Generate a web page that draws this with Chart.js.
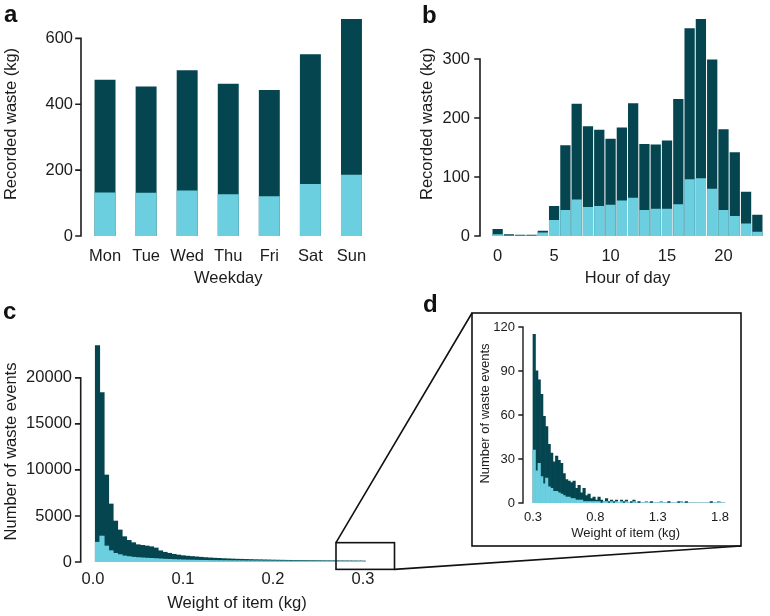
<!DOCTYPE html>
<html lang="en">
<head>
<meta charset="UTF-8">
<title>Recorded food waste</title>
<script src="https://cdn.jsdelivr.net/npm/chart.js"></script>
<style>
  body { margin: 0; background: #fff; }
  #wrap { position: relative; width: 770px; height: 616px; overflow: hidden; font-family: "Liberation Sans", Arial, sans-serif; }
  canvas { position: absolute; }
  .tag { position: absolute; font-weight: bold; font-size: 24px; line-height: 1; color: #111; }
</style>
</head>
<body>
<div id="wrap">
  <canvas id="chartA" width="385" height="290" style="left:0;top:0"></canvas>
  <canvas id="chartB" width="385" height="290" style="left:385px;top:0"></canvas>
  <canvas id="chartC" width="420" height="326" style="left:0;top:290px"></canvas>
  <canvas id="overlay" width="770" height="616" style="left:0;top:0"></canvas>
  <canvas id="chartD" width="265" height="229" style="left:474px;top:315px"></canvas>
  <div class="tag" style="left:4px;top:2px">a</div>
  <div class="tag" style="left:422px;top:3px">b</div>
  <div class="tag" style="left:3px;top:299px">c</div>
  <div class="tag" style="left:423px;top:292px">d</div>
</div>

<script>
  // panel a: waste per weekday
  const weekdays = ['Mon', 'Tue', 'Wed', 'Thu', 'Fri', 'Sat', 'Sun'];
  const weekdayTotal = [474, 454, 503, 462, 443, 552, 659];
  const weekdayPart = [132, 131, 138, 127, 121, 158, 186];
  const weekdayTicks = [0, 200, 400, 600];

  // panel b: waste per hour of day
  const hours = [0, 1, 2, 3, 4, 5, 6, 7, 8, 9, 10, 11, 12, 13, 14, 15, 16, 17, 18, 19, 20, 21, 22, 23];
  const hourTotal = [12, 3, 2, 2, 9, 51, 154, 224, 186, 180, 165, 184, 225, 156, 155, 162, 232, 352, 368, 299, 181, 142, 75, 36];
  const hourPart = [3, 1, 1, 1, 6, 27, 44, 62, 49, 51, 53, 60, 65, 44, 46, 46, 54, 96, 98, 80, 44, 34, 21, 7];
  const hourTicks = [0, 100, 200, 300];

  // panel c: item weight histogram (bin centres, kg)
  const weightC = [0.005, 0.010, 0.015, 0.020, 0.025, 0.030, 0.035, 0.040, 0.045, 0.050,
    0.055, 0.060, 0.065, 0.070, 0.075, 0.080, 0.085, 0.090, 0.095, 0.100,
    0.105, 0.110, 0.115, 0.120, 0.125, 0.130, 0.135, 0.140, 0.145, 0.150,
    0.155, 0.160, 0.165, 0.170, 0.175, 0.180, 0.185, 0.190, 0.195, 0.200,
    0.205, 0.210, 0.215, 0.220, 0.225, 0.230, 0.235, 0.240, 0.245, 0.250,
    0.255, 0.260, 0.265, 0.270, 0.275, 0.280, 0.285, 0.290, 0.295, 0.300];
  const eventsC = [23500, 18400, 9450, 6300, 4450, 3480, 2750, 2350, 2100, 1880,
    1810, 1740, 1660, 1520, 1220, 1060, 950, 840, 760, 690,
    640, 600, 560, 520, 480, 450, 420, 400, 370, 350,
    330, 310, 300, 285, 270, 255, 245, 235, 225, 215,
    205, 200, 190, 185, 178, 172, 168, 162, 158, 152,
    148, 144, 140, 136, 132, 128, 125, 122, 118, 115];
  const eventsCPart = [2150, 2820, 1740, 1230, 940, 800, 660, 590, 520, 480,
    450, 420, 400, 370, 340, 310, 290, 270, 250, 235,
    220, 210, 200, 190, 180, 170, 165, 160, 155, 150,
    145, 140, 135, 130, 128, 125, 122, 120, 118, 115,
    112, 110, 108, 106, 104, 102, 100, 98, 96, 95,
    94, 92, 90, 89, 88, 87, 86, 85, 84, 83];
  const weightTicksC = [0, 0.1, 0.2, 0.3];
  const eventTicksC = [0, 5000, 10000, 15000, 20000];
  // zoomed window marked in c (kg, events)
  const zoomWeight = [0.27, 0.335];
  const zoomEvents = [-800, 2100];

  // panel d: heavier items (bin centres, kg)
  const weightD = [0.31, 0.33, 0.35, 0.37, 0.39, 0.41, 0.43, 0.45, 0.47, 0.49,
    0.51, 0.53, 0.55, 0.57, 0.59, 0.61, 0.63, 0.65, 0.67, 0.69,
    0.71, 0.73, 0.75, 0.77, 0.79, 0.81, 0.83, 0.85, 0.87, 0.89,
    0.91, 0.93, 0.95, 0.97, 0.99, 1.01, 1.03, 1.05, 1.07, 1.09,
    1.11, 1.13, 1.15, 1.17, 1.19, 1.21, 1.23, 1.25, 1.27, 1.29,
    1.31, 1.33, 1.35, 1.37, 1.39, 1.41, 1.43, 1.45, 1.47, 1.49,
    1.51, 1.53, 1.55, 1.57, 1.59, 1.61, 1.63, 1.65, 1.67, 1.69,
    1.71, 1.73, 1.75, 1.77, 1.79, 1.81, 1.83];
  const eventsD = [115, 90, 84, 74, 59, 52, 40, 34, 28, 32,
    29, 27, 20, 16, 15, 14, 15, 10, 12, 7,
    10, 5, 6, 3, 4, 2, 4, 2, 1, 3,
    1, 2, 1, 2, 0, 2, 1, 2, 0, 1,
    2, 0, 1, 0, 0, 1, 0, 1, 0, 0,
    0, 1, 0, 0, 1, 0, 0, 0, 1, 1,
    0, 1, 0, 0, 0, 0, 0, 0, 0, 0,
    0, 1, 0, 0, 1, 0, 0];
  const eventsDPart = [36, 22, 27, 18, 13, 17, 11, 10, 8, 8,
    7, 6, 5, 4, 4, 3, 3, 2, 2, 2,
    1, 1, 1, 1, 1, 1, 1, 0, 1, 1,
    0, 1, 0, 1, 0, 1, 0, 1, 0, 0,
    1, 0, 0, 0, 0, 1, 0, 0, 0, 0,
    0, 1, 0, 0, 0, 0, 0, 0, 0, 1,
    0, 0, 0, 0, 0, 0, 0, 0, 0, 0,
    0, 0, 0, 0, 1, 0, 0];
  const weightTicksD = [0.3, 0.8, 1.3, 1.8];
  const eventTicksD = [0, 30, 60, 90, 120];

  const DARK = '#04454f';
  const LIGHT = '#6bcfdf';
  const INK = '#1c1c1c';
  const FS = 16.5;

  Chart.defaults.font.family = '"Liberation Sans", Arial, sans-serif';
  Chart.defaults.color = INK;

  // y axis drawn only between first and last tick, like the original
  const axisLine = {
    id: 'axisLine',
    afterDraw(chart, args, opts) {
      const y = chart.scales.y;
      const ctx = chart.ctx;
      const x0 = chart.chartArea.left - opts.gap;
      const vals = y.ticks.map(t => t.value);
      ctx.save();
      ctx.strokeStyle = INK;
      ctx.lineWidth = opts.width;
      ctx.lineCap = 'square';
      ctx.beginPath();
      ctx.moveTo(x0, y.getPixelForValue(vals[vals.length - 1]));
      ctx.lineTo(x0, y.getPixelForValue(vals[0]));
      vals.forEach(v => {
        const p = y.getPixelForValue(v);
        ctx.moveTo(x0, p);
        ctx.lineTo(x0 - opts.len, p);
      });
      ctx.stroke();
      ctx.restore();
    }
  };

  function yScale(max, ticks, width, tickPad, size, title, titlePad) {
    return {
      min: 0, max: max,
      afterBuildTicks: s => { s.ticks = ticks.map(v => ({ value: v })); },
      afterFit: s => { s.width = width; s.paddingTop = 0; s.paddingBottom = 0; },
      grid: { display: false, drawTicks: false },
      border: { display: false },
      ticks: { padding: tickPad, font: { size: size }, callback: v => String(v) },
      title: { display: true, text: title, font: { size: size }, padding: { top: titlePad, bottom: 0 } }
    };
  }

  function xFit(height) {
    return s => { s.height = height; s.paddingLeft = 0; s.paddingRight = 0; };
  }

  const common = {
    responsive: false,
    animation: false,
    devicePixelRatio: 1,
    plugins: { legend: { display: false }, tooltip: { enabled: false } }
  };

  // a
  new Chart(document.getElementById('chartA'), {
    type: 'bar',
    data: {
      labels: weekdays,
      datasets: [
        { data: weekdayPart, backgroundColor: LIGHT, grouped: false, barPercentage: 0.51, categoryPercentage: 1 },
        { data: weekdayTotal, backgroundColor: DARK, grouped: false, barPercentage: 0.51, categoryPercentage: 1 }
      ]
    },
    options: {
      ...common,
      layout: { padding: { top: 12, right: 13, left: 0, bottom: 0 } },
      plugins: { ...common.plugins, axisLine: { gap: 3.5, len: 5, width: 1.6 } },
      scales: {
        x: {
          afterFit: xFit(54),
          grid: { display: false, drawTicks: false },
          border: { display: false },
          ticks: { padding: 11, font: { size: FS } },
          title: { display: true, text: 'Weekday', font: { size: FS }, padding: { top: 0, bottom: 2 } }
        },
        y: yScale(680, weekdayTicks, 84.5, 11.5, FS, 'Recorded waste (kg)', 2)
      }
    },
    plugins: [axisLine]
  });

  // b
  new Chart(document.getElementById('chartB'), {
    type: 'bar',
    data: {
      labels: hours,
      datasets: [
        { data: hourPart, backgroundColor: LIGHT, grouped: false, barPercentage: 0.91, categoryPercentage: 1 },
        { data: hourTotal, backgroundColor: DARK, grouped: false, barPercentage: 0.91, categoryPercentage: 1 }
      ]
    },
    options: {
      ...common,
      layout: { padding: { top: 11.8, right: 7, left: 0, bottom: 0 } },
      plugins: { ...common.plugins, axisLine: { gap: 12, len: 5, width: 1.6 } },
      scales: {
        x: {
          afterFit: xFit(54),
          grid: { display: false, drawTicks: false },
          border: { display: false },
          ticks: {
            padding: 11, font: { size: FS }, autoSkip: false, maxRotation: 0,
            callback: (v, i) => (hours[i] % 5 === 0 ? String(hours[i]) : '')
          },
          title: { display: true, text: 'Hour of day', font: { size: FS }, padding: { top: 0, bottom: 2 } }
        },
        y: yScale(380, hourTicks, 107, 22, FS, 'Recorded waste (kg)', 33)
      }
    },
    plugins: [axisLine]
  });

  // c, with the zoom window drawn in data units
  const zoomBox = {
    id: 'zoomBox',
    afterDraw(chart) {
      const x = chart.scales.x, y = chart.scales.y, ctx = chart.ctx;
      const l = x.getPixelForValue(zoomWeight[0]), r = x.getPixelForValue(zoomWeight[1]);
      const t = y.getPixelForValue(zoomEvents[1]), b = y.getPixelForValue(zoomEvents[0]);
      ctx.save();
      ctx.strokeStyle = '#111';
      ctx.lineWidth = 1.6;
      ctx.strokeRect(l, t, r - l, b - t);
      ctx.restore();
    }
  };

  const chartC = new Chart(document.getElementById('chartC'), {
    type: 'bar',
    data: {
      datasets: [
        { data: weightC.map((w, i) => ({ x: w, y: eventsCPart[i] })), backgroundColor: LIGHT, grouped: false, barPercentage: 1, categoryPercentage: 1 },
        { data: weightC.map((w, i) => ({ x: w, y: eventsC[i] })), backgroundColor: DARK, grouped: false, barPercentage: 1, categoryPercentage: 1 }
      ]
    },
    options: {
      ...common,
      layout: { padding: { top: 51, right: 30, left: 0, bottom: 0 } },
      plugins: { ...common.plugins, axisLine: { gap: 3.3, len: 5, width: 1.6 } },
      scales: {
        x: {
          type: 'linear', min: -0.01, max: 0.33, offset: false,
          afterBuildTicks: s => { s.ticks = weightTicksC.map(v => ({ value: v })); },
          afterFit: xFit(54),
          grid: { display: false, drawTicks: false },
          border: { display: false },
          ticks: { padding: 8, font: { size: FS }, callback: v => v.toFixed(1) },
          title: { display: true, text: 'Weight of item (kg)', font: { size: 16.7 }, padding: { top: 0, bottom: 3 } }
        },
        y: yScale(24000, eventTicksC, 84, 12, FS, 'Number of waste events', 2)
      }
    },
    plugins: [axisLine, zoomBox]
  });

  // d
  new Chart(document.getElementById('chartD'), {
    type: 'bar',
    data: {
      datasets: [
        { data: weightD.map((w, i) => ({ x: w, y: eventsDPart[i] })), backgroundColor: LIGHT, grouped: false, barPercentage: 1, categoryPercentage: 1 },
        { data: weightD.map((w, i) => ({ x: w, y: eventsD[i] })), backgroundColor: DARK, grouped: false, barPercentage: 1, categoryPercentage: 1 }
      ]
    },
    options: {
      ...common,
      layout: { padding: { top: 9, right: 11.5, left: 0, bottom: 0 } },
      plugins: { ...common.plugins, axisLine: { gap: 1, len: 4, width: 1.4 } },
      scales: {
        x: {
          type: 'linear', min: 0.228, max: 1.86, offset: false,
          afterBuildTicks: s => { s.ticks = weightTicksD.map(v => ({ value: v })); },
          afterFit: xFit(41),
          grid: { display: false, drawTicks: false },
          border: { display: false },
          ticks: { padding: 6.2, font: { size: 13 }, callback: v => v.toFixed(1) },
          title: { display: true, text: 'Weight of item (kg)', font: { size: 13 }, padding: { top: 0, bottom: 3.2 } }
        },
        y: yScale(122, eventTicksD, 50, 9, 13, 'Number of waste events', 3.2)
      }
    },
    plugins: [axisLine]
  });

  // frame round the inset and the two connector lines
  (function () {
    const ctx = document.getElementById('overlay').getContext('2d');
    const offC = { x: 0, y: 290 };
    const frame = { l: 472, t: 313, r: 741, b: 546 };
    const x = chartC.scales.x, y = chartC.scales.y;
    const boxL = x.getPixelForValue(zoomWeight[0]) + offC.x;
    const boxR = x.getPixelForValue(zoomWeight[1]) + offC.x;
    const boxT = y.getPixelForValue(zoomEvents[1]) + offC.y;
    const boxB = y.getPixelForValue(zoomEvents[0]) + offC.y;
    ctx.strokeStyle = '#111';
    ctx.lineWidth = 1.6;
    ctx.strokeRect(frame.l, frame.t, frame.r - frame.l, frame.b - frame.t);
    ctx.beginPath();
    ctx.moveTo(boxL, boxT);
    ctx.lineTo(frame.l, frame.t);
    ctx.moveTo(boxR, boxB);
    ctx.lineTo(frame.r, frame.b);
    ctx.stroke();
  })();
</script>
</body>
</html>
